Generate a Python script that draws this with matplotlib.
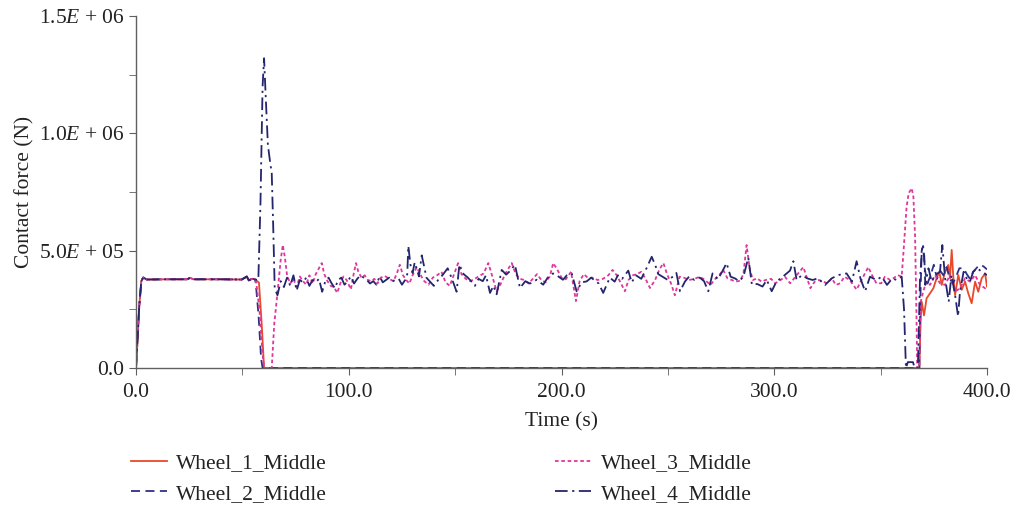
import numpy as np
import matplotlib
matplotlib.use("Agg")
import matplotlib.pyplot as plt
from matplotlib.ticker import MultipleLocator, FixedLocator

plt.rcParams['font.family'] = ['Liberation Serif', 'DejaVu Serif']
plt.rcParams['mathtext.fontset'] = 'custom'
plt.rcParams['mathtext.rm'] = 'Liberation Serif'
plt.rcParams['mathtext.it'] = 'Liberation Serif:italic'

# shared ramp-up and plateau (kN)
start_t = [0, 0.6, 1.5, 2.5, 3.4, 5, 15, 24, 25.4, 27, 40, 49.7, 51, 52.1, 53, 54, 55, 56]
start_f = [0, 100, 260, 370, 386, 377, 378, 378, 384, 378, 378, 377, 384, 390, 373, 378, 380, 377]

w1_t = [57.8, 59.1, 60.2, 368.2, 368.8, 369.3, 370.4, 371.6, 373.2, 374.8, 376.3, 377.6, 378.7,
        380.3, 381.8, 382.6, 383.4, 384.2, 385, 386.5, 388.1, 389.7, 391.2, 392.8, 394.4, 395.9,
        397.5, 399.1, 400]
w1_f = [364, 185, 0, 0, 200, 283, 224, 297, 318, 340, 382, 410, 354,
        410, 439, 382, 503, 382, 311, 396, 333, 368, 318, 276, 368, 325,
        382, 403, 347]

w2_t = [56.4, 57.6, 58.8, 59.5, 368.2, 368.7, 369.3, 370, 370.8, 372, 373.5, 375, 376.5, 378,
        379.5, 381, 382.5, 384, 385.5, 387, 389, 390.5, 392, 393.5, 395.5, 397, 398.5, 400]
w2_f = [350, 225, 40, 0, 0, 300, 500, 520, 420, 360, 395, 440, 380, 415,
        395, 430, 380, 360, 390, 425, 425, 400, 380, 410, 430, 440, 432, 420]

w3_t = [56.5, 58, 59.5, 60.2, 63.8, 65, 66.5, 68, 69, 70, 71, 72.5, 74, 75.5, 77, 78.5, 80, 81.5,
        83, 84.5, 86, 87.3, 88.5, 90, 91.5, 93, 94.6, 96, 97.5, 99, 101, 102.3, 103.4, 104.5, 106,
        107.5, 109, 110.5, 112, 113.5, 115, 117, 119, 121, 122.5, 124, 125.5, 127, 128.5, 130, 132,
        133.5, 135.5, 137.5, 139.5, 141.5, 143.6, 145.5, 147.5, 149.5, 151.4, 153, 155, 157, 159,
        161, 163.4, 165.6, 167.5, 169.5, 171.5, 173.5, 176.6, 178.5, 180.5, 182.5, 184.5, 186.5,
        188.5, 190.5, 192.5, 194.5, 196.1, 198, 200, 202, 204.5, 206.8, 208.5, 210.5, 212.5, 214.5,
        217, 219.5, 222, 224, 226, 228, 229.8, 231.5, 233.5, 235.5, 237.5, 239.5, 241.6, 244, 246,
        247.9, 249.5, 251.5, 253.3, 255.5, 257.5, 260, 262.5, 265, 267.5, 270, 272.5, 274.5, 276,
        278, 280, 282, 284, 285.5, 287, 288.5, 290, 292, 294, 296, 298.5, 300.5, 303, 305, 307.5,
        310.5, 313.7, 315.5, 317, 319, 321, 323, 325, 327, 329, 331, 333, 335.5, 338.7, 341, 344.2,
        346, 348, 350.3, 352, 354.5, 356, 358, 359.9, 360.7, 362.2, 363.2, 364.6, 365.4, 366.2,
        366.8, 367.2, 368.2, 368.8, 370, 371.5, 373.2, 375.6, 377.9, 380.3, 382.6, 385, 387.3,
        389.7, 392, 394.4, 396.7, 399.1, 400]
w3_f = [365, 250, 60, 0, 0, 190, 320, 460, 524, 470, 395, 360, 380, 345, 390, 370, 355, 395,
        360, 400, 425, 447, 400, 370, 350, 345, 320, 360, 390, 375, 335, 400, 447, 410, 385,
        395, 375, 370, 380, 360, 385, 392, 380, 370, 400, 440, 395, 375, 360, 395, 430,
        400, 370, 355, 385, 395, 410, 365, 350, 400, 447, 400, 380, 370, 378,
        390, 403, 447, 390, 327, 360, 400, 447, 400, 380, 375, 360, 380,
        400, 375, 365, 390, 447, 420, 385, 378, 410, 285, 370, 400, 383, 385,
        375, 380, 395, 418, 395, 360, 327, 375, 395, 400, 410, 380, 341, 375, 420,
        447, 403, 360, 310, 389, 385, 375, 380, 389, 375, 354, 382, 400, 418,
        382, 375, 368, 372, 400, 524, 420, 375, 382, 368, 375, 380, 361, 375, 389, 361,
        395, 430, 380, 340, 368, 375, 368, 361, 382, 354, 361, 389, 375, 334, 375, 430,
        395, 361, 361, 389, 375, 382, 396, 389, 489, 687, 745, 766, 730, 560,
        250, 0, 0, 280, 325, 368, 354, 396, 361, 354, 396, 325, 340,
        382, 368, 396, 354, 340, 345]

w4_t = [57.5, 58.5, 59.5, 60.2, 61, 62, 63, 63.8, 64.5, 65.2, 66.5, 68, 69.5, 71, 72.5, 74, 75.5,
        77, 78.5, 80, 81.5, 83, 84.5, 86, 87.5, 89, 90.5, 92, 93.5, 95, 96.5, 98, 99.5, 101, 102.5,
        104, 105.5, 107, 108.5, 110, 111.5, 113, 114.5, 116, 117.5, 119, 120.5, 122, 123.5, 125,
        126.5, 127.5, 128, 129, 130, 131, 132, 133, 134.3, 135.5, 136.5, 138, 140, 142, 144, 146.5,
        148.5, 150.7, 152, 154, 156, 158, 159.3, 161, 163, 164.5, 166.4, 168, 169.5, 171.9, 174,
        176, 178.1, 180.5, 183, 185.2, 188.3, 191.4, 193.5, 196, 198.5, 200.7, 202.5, 204.8, 207.1,
        209.5, 211.8, 214, 216, 217.5, 219.6, 222.7, 225, 226.5, 228.5, 231.4, 233, 235, 237.5,
        240, 242.4, 244, 245.5, 247.5, 250, 252.5, 254, 255.7, 258, 260, 262.5, 265, 267, 269,
        271, 273.5, 275.5, 277.6, 279.5, 281.5, 283.5, 285.5, 287.8, 289.5, 292, 294.5, 296.5,
        298.8, 301, 304, 307.4, 309, 310.5, 313, 315.5, 318, 320.5, 323.9, 327, 330, 334, 336.5,
        338.7, 340.5, 342.7, 345, 348, 350.5, 353, 355.5, 357.5, 359.9, 361, 361.9, 362.8, 365.2,
        366, 367.5, 368.5, 369.5, 370.5, 371, 372.5, 374, 375.6, 377.9, 379, 380.3, 382, 383.3,
        385, 386.4, 387.3, 389, 390.5, 392, 393.5, 395.5, 397.5, 400]
w4_f = [375, 700, 1200, 1320, 1150, 950, 880, 830, 600, 340, 310, 370, 345, 385, 350, 395, 330,
        375, 365, 385, 350, 375, 365, 380, 325, 370, 385, 360, 340, 375, 385, 355, 370, 390, 360,
        380, 395, 385, 375, 360, 370, 355, 390, 365, 375, 385, 370, 375, 380, 355,
        375, 400, 520, 440, 405, 450, 420, 390, 480, 430, 385, 370, 350, 375, 395, 425,
        380, 325, 440, 400, 385, 365, 350, 380, 370, 395, 320, 350, 314, 418, 398,
        415, 440, 341, 370, 360, 376, 355, 385, 403, 390, 376, 395, 403, 327,
        365, 369, 385, 370, 360, 320, 385, 368, 395, 380, 415, 365, 395, 380,
        426, 474, 440, 400, 389, 375, 390, 405, 327, 368, 390, 375, 385, 370, 327,
        403, 378, 410, 447, 389, 382, 370, 389, 470, 355, 358, 347, 375,
        327, 368, 389, 415, 455, 375, 396, 382, 375, 382, 354, 382, 396, 403, 368,
        455, 382, 327, 389, 375, 389, 354, 382, 375, 389, 250, 0, 25, 25,
        0, 0, 380, 510, 480, 354, 425, 368, 396, 410, 524, 382, 283, 396,
        311, 220, 325, 410, 382, 368, 410, 425, 410, 396]

labels = ['Wheel_1_Middle', 'Wheel_2_Middle', 'Wheel_3_Middle', 'Wheel_4_Middle']
colors = ['#E8492B', '#2E3088', '#E0369A', '#23256E']
styles = ['-', (0, (5, 3)), (0, (2, 1.5)), (0, (7, 2.5, 1.2, 2.5))]

series = [(w1_t, w1_f), (w2_t, w2_f), (w3_t, w3_f), (w4_t, w4_f)]

fs = 15.5

fig = plt.figure(figsize=(10.12, 5.13), dpi=100)
ax = fig.add_axes([136 / 1012, 1 - 368 / 513, 851 / 1012, 352 / 513])

for (t, f), lab, c, ls in zip(series, labels, colors, styles):
    tt = np.array(start_t + t)
    ff = np.array(start_f + f) * 1e3
    ax.plot(tt, ff, color=c, linestyle=ls, linewidth=1.3, label=lab)

ax.set_xlim(0, 400)
ax.set_ylim(0, 1.5e6)
ax.xaxis.set_major_locator(FixedLocator([0, 100, 200, 300, 400]))
ax.xaxis.set_minor_locator(MultipleLocator(50))
ax.set_xticklabels(['0.0', '100.0', '200.0', '300.0', '400.0'])
ax.yaxis.set_major_locator(FixedLocator([0, 5e5, 1e6, 1.5e6]))
ax.yaxis.set_minor_locator(MultipleLocator(2.5e5))
ax.set_yticklabels(['0.0', r'5.0$\mathit{E}$ + 05', r'1.0$\mathit{E}$ + 06', r'1.5$\mathit{E}$ + 06'])

for s in ['top', 'right']:
    ax.spines[s].set_visible(False)
for s in ['left', 'bottom']:
    ax.spines[s].set_color('#606060')
    ax.spines[s].set_linewidth(1.0)
ax.tick_params(which='both', direction='out', length=5, color='#606060', labelsize=fs,
               labelcolor='#222222')
ax.tick_params(axis='x', pad=6)

ax.set_xlabel('Time (s)', fontsize=fs, color='#222222', labelpad=7)
ax.set_ylabel('Contact force (N)', fontsize=fs, color='#222222', labelpad=3)

fig.legend(loc='upper left', bbox_to_anchor=(131 / 1012, 1 - 453 / 513), ncol=2,
           frameon=False, fontsize=fs, handlelength=1.65, handletextpad=0.45,
           columnspacing=10.6, borderpad=0, borderaxespad=0, labelspacing=0.5,
           labelcolor='#222222')

fig.savefig('out.png', dpi=100)
